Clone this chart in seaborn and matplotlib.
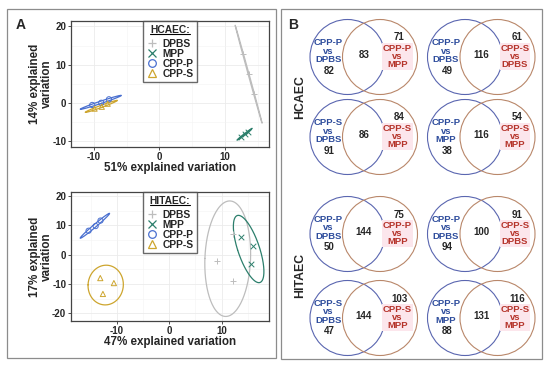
import numpy as np
import pandas as pd
import matplotlib
matplotlib.use("Agg")
import matplotlib.pyplot as plt
import seaborn as sns
from matplotlib.patches import Circle, Rectangle
from matplotlib.lines import Line2D
from matplotlib.ticker import MultipleLocator

# ---------------- data ----------------
groups = ["DPBS", "MPP", "CPP-P", "CPP-S"]

hcaec_group = ["DPBS"] * 3 + ["MPP"] * 3 + ["CPP-P"] * 3 + ["CPP-S"] * 3
hcaec_pc1 = [12.78, 13.67, 14.46, 12.53, 13.06, 13.47, -10.26, -8.88, -7.70, -9.90, -8.80, -7.90]
hcaec_pc2 = [12.72, 7.51, 2.28, -8.78, -8.20, -7.52, -0.52, 0.05, 0.96, -1.48, -0.99, -0.20]

hitaec_group = ["DPBS"] * 3 + ["MPP"] * 3 + ["CPP-P"] * 3 + ["CPP-S"] * 3
hitaec_pc1 = [12.2, 9.1, 12.2, 13.8, 16.0, 15.7, -15.44, -14.09, -13.16, -13.2, -10.6, -12.7]
hitaec_pc2 = [7.0, -2.2, -9.0, 6.0, 2.9, -3.2, 8.12, 9.71, 11.58, -8.0, -9.7, -13.4]

hcaec_xlabel = "51% explained variation"
hcaec_ylabel = "14% explained\nvariation"
hitaec_xlabel = "47% explained variation"
hitaec_ylabel = "17% explained\nvariation"

venn_left_labels = ["CPP-P\nvs\nDPBS", "CPP-P\nvs\nDPBS", "CPP-S\nvs\nDPBS", "CPP-P\nvs\nMPP",
                    "CPP-P\nvs\nDPBS", "CPP-P\nvs\nDPBS", "CPP-S\nvs\nDPBS", "CPP-P\nvs\nMPP"]
venn_right_labels = ["CPP-P\nvs\nMPP", "CPP-S\nvs\nDPBS", "CPP-S\nvs\nMPP", "CPP-S\nvs\nMPP",
                     "CPP-P\nvs\nMPP", "CPP-S\nvs\nDPBS", "CPP-S\nvs\nMPP", "CPP-S\nvs\nMPP"]
venn_left_only = [82, 49, 91, 38, 50, 94, 47, 88]
venn_both = [83, 116, 86, 116, 144, 100, 144, 131]
venn_right_only = [71, 61, 84, 54, 75, 91, 103, 116]
cell_lines = ["HCAEC", "HITAEC"]

# ---------------- style ----------------
sns.set_style("white")
plt.rcParams["font.family"] = ["Liberation Sans", "DejaVu Sans"]
plt.rcParams["font.weight"] = "bold"
plt.rcParams["axes.unicode_minus"] = False

colors = {"DPBS": "#BDBDBD", "MPP": "#2C7F6C", "CPP-P": "#4A70D0", "CPP-S": "#CDA52E"}
markers = {"DPBS": "+", "MPP": "x", "CPP-P": "o", "CPP-S": "^"}
ELL_SCALE = np.sqrt(5.991)

W, H = 550, 368
fig = plt.figure(figsize=(W / 100, H / 100), dpi=100)

# overlay axes in pixel coordinates for frames / venn diagrams
ov = fig.add_axes([0, 0, 1, 1], zorder=0)
ov.set_xlim(0, W)
ov.set_ylim(H, 0)
ov.axis("off")


def ellipse_xy(x, y, n=200):
    x = np.asarray(x, float)
    y = np.asarray(y, float)
    cov = np.cov(x, y)
    vals, vecs = np.linalg.eigh(cov)
    vals = np.clip(vals, 0, None)
    t = np.linspace(0, 2 * np.pi, n)
    circ = np.vstack([np.cos(t), np.sin(t)])
    pts = vecs @ (np.sqrt(vals)[:, None] * circ) * ELL_SCALE
    return x.mean() + pts[0], y.mean() + pts[1]


def pca_panel(rect, pc1, pc2, grp, xlim, ylim, yticks, title):
    ax = fig.add_axes(rect, zorder=2)
    df = pd.DataFrame({"pc1": pc1, "pc2": pc2, "group": grp})
    for g in groups:
        sub = df[df.group == g]
        ex, ey = ellipse_xy(sub.pc1, sub.pc2)
        ax.plot(ex, ey, color=colors[g], lw=0.9, zorder=2)
        if markers[g] in ("o", "^"):
            sns.scatterplot(data=sub, x="pc1", y="pc2", ax=ax, marker=markers[g], s=14,
                            facecolor="none", edgecolor=colors[g], color=colors[g],
                            linewidth=0.7, zorder=3, legend=False)
        else:
            sns.scatterplot(data=sub, x="pc1", y="pc2", ax=ax, marker=markers[g], s=16,
                            color=colors[g], linewidth=0.7, zorder=3, legend=False)
    ax.set_xlim(*xlim)
    ax.set_ylim(*ylim)
    ax.set_xticks([-10, 0, 10])
    ax.set_yticks(yticks)
    ax.xaxis.set_minor_locator(MultipleLocator(5))
    ax.yaxis.set_minor_locator(MultipleLocator(5))
    ax.set_axisbelow(True)
    ax.grid(which="major", color="#EBEBEB", lw=0.6)
    ax.grid(which="minor", color="#F3F3F3", lw=0.4)
    ax.tick_params(which="major", labelsize=7, length=2.0, width=0.6, color="#333333", pad=1.5,
                   left=True, bottom=True)
    ax.tick_params(which="minor", length=0)
    for lab in ax.get_xticklabels() + ax.get_yticklabels():
        lab.set_fontweight("bold")
    for s in ax.spines.values():
        s.set_color("#444444")
        s.set_linewidth(0.9)
    ax.set_xlabel("")
    ax.set_ylabel("")
    handles = []
    for g in groups:
        if markers[g] in ("o", "^"):
            h = Line2D([], [], ls="none", marker=markers[g], markersize=5.5, mfc="none",
                       mec=colors[g], mew=0.9)
        else:
            h = Line2D([], [], ls="none", marker=markers[g], markersize=6, color=colors[g], mew=0.9)
        handles.append(h)
    leg = ax.legend(handles, groups, title=title, loc="upper left",
                    bbox_to_anchor=((143 - 71) / 198, 1.0), borderaxespad=0,
                    title_fontproperties={"weight": "bold", "size": 7.4},
                    frameon=True, fancybox=False, handlelength=1.0, handletextpad=0.55,
                    labelspacing=0.0, borderpad=0.35,
                    prop={"weight": "bold", "size": 7.4})
    leg._legend_box.sep = 3.0
    leg.get_frame().set_edgecolor("#444444")
    leg.get_frame().set_linewidth(1.0)
    return ax, leg


ax1, leg1 = pca_panel([71 / W, 1 - 147 / H, 198 / W, 126 / H], hcaec_pc1, hcaec_pc2, hcaec_group,
                      (-13.5, 16.75), (-11.5, 21.4), [-10, 0, 10, 20], "HCAEC:")
ax2, leg2 = pca_panel([71 / W, 1 - 321 / H, 198 / W, 129 / H], hitaec_pc1, hitaec_pc2, hitaec_group,
                      (-18.8, 19.06), (-22.6, 21.3), [-20, -10, 0, 10, 20], "HITAEC:")

# axis labels (pixel positions)
ov.text(170, 167.5, hcaec_xlabel, ha="center", va="center", fontsize=8.4, fontweight="bold")
ov.text(41, 84, hcaec_ylabel, ha="center", va="center", rotation=90, fontsize=8.4,
        fontweight="bold", linespacing=1.0)
ov.text(170, 342, hitaec_xlabel, ha="center", va="center", fontsize=8.4, fontweight="bold")
ov.text(41, 257, hitaec_ylabel, ha="center", va="center", rotation=90, fontsize=8.4,
        fontweight="bold", linespacing=1.0)

# panel frames and letters
ov.add_patch(Rectangle((7, 9), 269, 349, fill=False, ec="#8C8C8C", lw=0.9))
ov.add_patch(Rectangle((281, 9), 261, 350, fill=False, ec="#8C8C8C", lw=0.9))
ov.text(21, 25, "A", ha="center", va="center", fontsize=10, fontweight="bold")
ov.text(293, 25, "B", ha="center", va="center", fontsize=10, fontweight="bold")

# venn diagrams
col_x = [347.5, 465]
row_y = [57, 137, 234, 318]
R = 37.5
DX = 32.5
blue_c, red_c = "#5A66B0", "#B9876A"
blue_t, red_t = "#2D4C9C", "#B5332A"
for i in range(8):
    cx = col_x[i % 2]
    cy = row_y[i // 2]
    ov.add_patch(Circle((cx, cy), R, fill=False, ec=blue_c, lw=0.8))
    ov.add_patch(Circle((cx + DX, cy), R, fill=False, ec=red_c, lw=0.8))
    ov.text(cx - 19, cy - 6, venn_left_labels[i], ha="center", va="center", color=blue_t,
            fontsize=6.8, fontweight="bold", linespacing=0.88)
    ov.text(cx + 50, cy - 0.5, venn_right_labels[i], ha="center", va="center", color=red_t,
            fontsize=6.8, fontweight="bold", linespacing=0.88,
            bbox=dict(boxstyle="square,pad=0.08", fc="#FCE6EC", ec="none"))
    ov.text(cx - 18, cy + 13.5, str(venn_left_only[i]), ha="center", va="center",
            fontsize=7, fontweight="bold")
    ov.text(cx + 16.5, cy - 2, str(venn_both[i]), ha="center", va="center",
            fontsize=7, fontweight="bold")
    ov.text(cx + 52, cy - 19.5, str(venn_right_only[i]), ha="center", va="center",
            fontsize=7, fontweight="bold")

ov.text(300, 97, cell_lines[0], ha="center", va="center", rotation=90, fontsize=8.8, fontweight="bold")
ov.text(300, 275, cell_lines[1], ha="center", va="center", rotation=90, fontsize=8.8, fontweight="bold")

# underline legend titles
fig.canvas.draw()
renderer = fig.canvas.get_renderer()
inv = fig.transFigure.inverted()
for leg in (leg1, leg2):
    bb = leg.get_title().get_window_extent(renderer)
    (x0, y0), (x1, _) = inv.transform([(bb.x0, bb.y0 + 1.0), (bb.x1, bb.y0)])
    fig.add_artist(Line2D([x0, x1], [y0, y0], transform=fig.transFigure, color="black",
                          lw=0.8, zorder=10))

fig.savefig("out.png", dpi=100)
